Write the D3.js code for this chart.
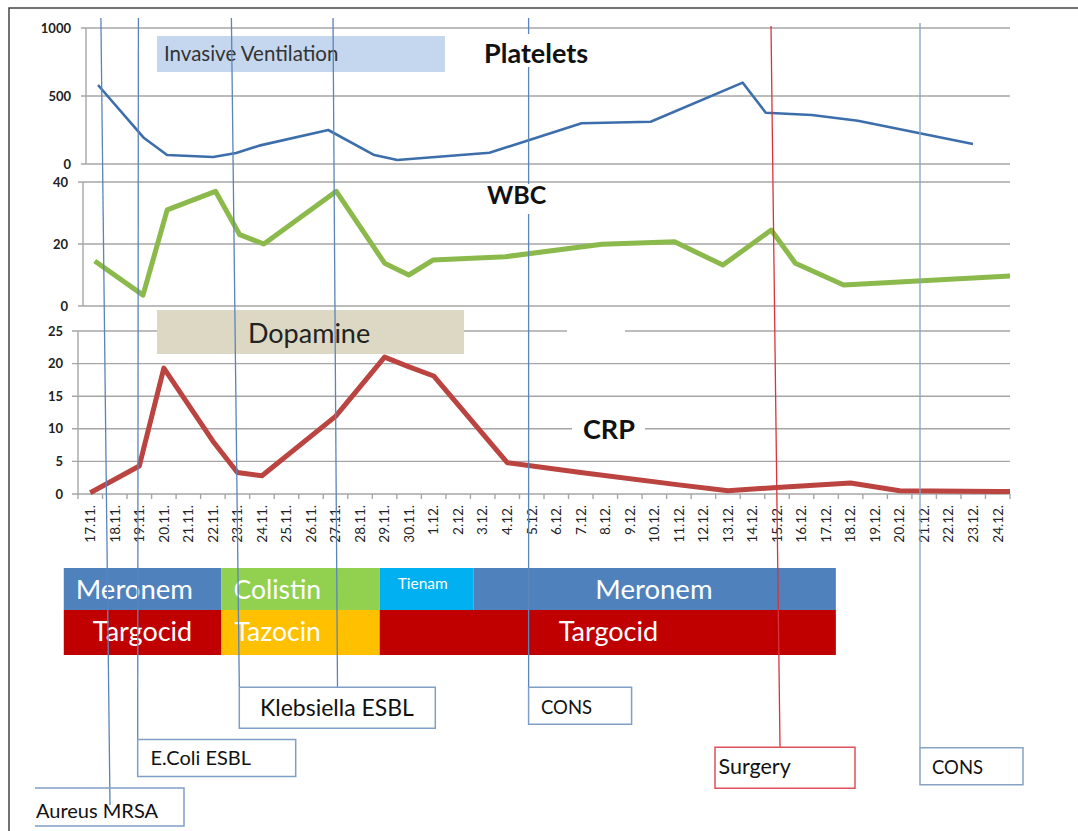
<!DOCTYPE html>
<html>
<head>
<meta charset="utf-8">
<script src="https://cdn.jsdelivr.net/npm/d3@7"></script>
<style>
  body { margin: 0; background: #fff; }
  svg { display: block; font-family: Lato, "Open Sans", sans-serif; }
</style>
</head>
<body>
<script>
// day labels on the x axis
const days = ["17.11.","18.11.","19.11.","20.11.","21.11.","22.11.","23.11.","24.11.","25.11.","26.11.",
  "27.11.","28.11.","29.11.","30.11.","1.12.","2.12.","3.12.","4.12.","5.12.","6.12.","7.12.","8.12.",
  "9.12.","10.12.","11.12.","12.12.","13.12.","14.12.","15.12.","16.12.","17.12.","18.12.","19.12.",
  "20.12.","21.12.","22.12.","23.12.","24.12."];

// series: day index (0 = 17.11.) and value
const pltDay = [0, 2, 3, 5, 6, 7, 10, 12, 13, 17, 21, 24, 28, 29, 31, 33, 38];
const pltVal = [581, 191, 66, 51, 81, 135, 250, 66, 29, 83, 300, 311, 598, 377, 360, 318, 147];
const wbcDay = [0, 2, 3, 5, 6, 7, 10, 12, 13, 14, 17, 21, 24, 26, 28, 29, 31, 38];
const wbcVal = [14.5, 3.5, 31, 37, 23, 20, 37, 13.8, 10, 14.8, 15.9, 19.9, 20.7, 13.2, 24.5, 13.8, 6.8, 9.7];
const crpDay = [0, 2, 3, 5, 6, 7, 10, 12, 13, 14, 17, 20, 24, 26, 28, 31, 33, 37, 38];
const crpVal = [0.2, 4.3, 19.3, 8.1, 3.3, 2.8, 11.9, 21, 19.5, 18.1, 4.8, 3.3, 1.4, 0.5, 1.0, 1.7, 0.5, 0.4, 0.35];

const pltTicks = [0, 500, 1000];
const wbcTicks = [0, 20, 40];
const crpTicks = [0, 5, 10, 15, 20, 25];

// antibiotic therapy rows (in days from 17.11.)
const row1Drug = ["Meronem", "Colistin", "Tienam", "Meronem"];
const row1From = [-0.58, 5.85, 12.3, 16.12];
const row1To   = [5.85, 12.3, 16.12, 30.9];
const row2Drug = ["Targocid", "Tazocin", "Targocid"];
const row2From = [-0.58, 5.85, 12.3];
const row2To   = [5.85, 12.3, 30.9];

// supportive care periods
const careName = ["Invasive Ventilation", "Dopamine"];
const careFrom = [3.22, 3.22];
const careTo   = [14.96, 15.74];

// findings / events
const eventLabel = ["Aureus MRSA", "E.Coli ESBL", "Klebsiella ESBL", "CONS", "Surgery", "CONS"];

const W = 1078, H = 831;
const svg = d3.select("body").append("svg").attr("width", W).attr("height", H);

const x = d3.scaleBand().domain(days).range([78, 1010]);
const bw = x.bandwidth();
const xDay = d3.scaleLinear().domain([0, 38]).range([78, 1010]);
const xCrp = d3.scaleLinear().domain([0, 37]).range([x(days[0]) + bw / 2, x(days[37]) + bw / 2]);
const xWbc = d3.scaleLinear().domain([0, 38]).range([94.7, 1012.8]);
const xPlt = d3.scaleLinear().domain([0, 38]).range([98, 973]);

const grid = "#a6a6a6";

// frame
svg.append("path").attr("d", "M9,831V8H1078").attr("fill", "none")
  .attr("stroke", "#444").attr("stroke-width", 1.5);

svg.append("clipPath").attr("id", "plot").append("rect")
  .attr("x", 0).attr("y", 0).attr("width", 1010).attr("height", H);

const panels = [
  { ticks: pltTicks, domain: [0, 1000], range: [164, 28], axisX: 86, gridX0: 81 },
  { ticks: wbcTicks, domain: [0, 40], range: [306, 182], axisX: 83, gridX0: 78 },
  { ticks: crpTicks, domain: [0, 25], range: [494, 331], axisX: 78, gridX0: 72 }
];
panels.forEach(p => { p.y = d3.scaleLinear().domain(p.domain).range(p.range); });

// gridlines, axes and tick labels
panels.forEach(p => {
  const g = svg.append("g");
  g.selectAll("line.grid").data(p.ticks).enter().append("line")
    .attr("x1", p.gridX0).attr("x2", 1010)
    .attr("y1", d => p.y(d)).attr("y2", d => p.y(d))
    .attr("stroke", grid).attr("stroke-width", 1.4);
  g.append("line")
    .attr("x1", p.axisX).attr("x2", p.axisX)
    .attr("y1", p.range[0]).attr("y2", p.range[1])
    .attr("stroke", grid).attr("stroke-width", 1.4);
  g.selectAll("text").data(p.ticks).enter().append("text")
    .attr("x", p.axisX - 15).attr("y", d => p.y(d) + 4.5)
    .attr("text-anchor", "end").attr("font-size", 13).attr("font-weight", "bold")
    .attr("fill", "#222").text(d => d);
});

// category ticks and rotated day labels under the CRP panel
const crpY = panels[2].y;
svg.append("g").selectAll("line").data(days.map(d => x(d)).concat([1010])).enter().append("line")
  .attr("x1", d => d).attr("x2", d => d).attr("y1", crpY(0)).attr("y2", crpY(0) + 5)
  .attr("stroke", grid).attr("stroke-width", 1.4);
svg.append("g").selectAll("text").data(days).enter().append("text")
  .attr("transform", d => `translate(${x(d) + bw / 2 + 4.8},505) rotate(-90)`)
  .attr("text-anchor", "end").attr("font-size", 13.5).attr("fill", "#222")
  .text(d => d);

// care period boxes
const careStyle = [
  { y: 36, h: 36, fill: "#c5d7ee", size: 20.5, color: "#333", dx: 7, by: 61 },
  { y: 310, h: 44, fill: "#dcd8c4", size: 27, color: "#222", dx: 91, by: 343 }
];
careName.forEach((n, i) => {
  const s = careStyle[i];
  svg.append("rect").attr("x", xDay(careFrom[i])).attr("y", s.y)
    .attr("width", xDay(careTo[i]) - xDay(careFrom[i])).attr("height", s.h).attr("fill", s.fill);
  svg.append("text").attr("x", xDay(careFrom[i]) + s.dx).attr("y", s.by)
    .attr("font-size", s.size).attr("fill", s.color).text(n);
});

// series lines
const series = [
  { xs: xPlt, y: panels[0].y, day: pltDay, val: pltVal, color: "#3d6eac", width: 2.6 },
  { xs: xWbc, y: panels[1].y, day: wbcDay, val: wbcVal, color: "#8cb94b", width: 5 },
  { xs: xCrp, y: panels[2].y, day: crpDay, val: crpVal, color: "#bb4340", width: 5 }
];
series.forEach(s => {
  const line = d3.line().x(i => s.xs(s.day[i])).y(i => s.y(s.val[i]));
  svg.append("path").datum(d3.range(s.day.length)).attr("d", line)
    .attr("clip-path", "url(#plot)")
    .attr("fill", "none").attr("stroke", s.color).attr("stroke-width", s.width)
    .attr("stroke-linejoin", "round");
});

// antibiotic table
const rows = [
  { drug: row1Drug, from: row1From, to: row1To, y: 568, h: 42,
    fill: ["#4f81bd", "#92d050", "#00b0f0", "#4f81bd"], dx: [12, 12, 18, 122], by: [599, 599, 589, 599],
    size: [27.5, 26.5, 15.5, 27.5] },
  { drug: row2Drug, from: row2From, to: row2To, y: 610, h: 45,
    fill: ["#c00000", "#ffc000", "#c00000"], dx: [29, 13, 179], by: [641, 641, 641], size: [27, 26.5, 27] }
];
rows.forEach(r => {
  r.drug.forEach((d, i) => {
    svg.append("rect").attr("x", xDay(r.from[i])).attr("y", r.y)
      .attr("width", xDay(r.to[i]) - xDay(r.from[i])).attr("height", r.h).attr("fill", r.fill[i]);
    svg.append("text").attr("x", xDay(r.from[i]) + r.dx[i]).attr("y", r.by[i])
      .attr("font-size", r.size[i]).attr("fill", "#fff").text(d);
  });
});

// event lines (top x, top y, bottom x, bottom y)
const evLines = [
  { p: [100.9, 18, 110, 805], c: "#5b84bb" },
  { p: [138.4, 18, 137.7, 740], c: "#5b84bb" },
  { p: [231.4, 18, 239.3, 687], c: "#5b84bb" },
  { p: [333, 18, 337.5, 687], c: "#5b84bb" },
  { p: [528.6, 18, 528.6, 687], c: "#5b84bb" },
  { p: [771, 26, 780, 747], c: "#d9343c" },
  { p: [920, 23, 920, 748], c: "#87a3c4" }
];
svg.append("g").selectAll("line").data(evLines).enter().append("line")
  .attr("x1", d => d.p[0]).attr("y1", d => d.p[1]).attr("x2", d => d.p[2]).attr("y2", d => d.p[3])
  .attr("stroke", d => d.c).attr("stroke-width", 1.3);

// event boxes
const evBox = [
  { x: 35, y: 788, w: 149, h: 38, c: "#7f9fc6", tx: 36, ty: 818, size: 20, openLeft: true },
  { x: 137.7, y: 739.5, w: 158, h: 37, c: "#7f9fc6", tx: 150.5, ty: 765, size: 20 },
  { x: 239.3, y: 687.3, w: 196, h: 41, c: "#7f9fc6", tx: 260, ty: 716, size: 23 },
  { x: 528.6, y: 687.3, w: 103, h: 37, c: "#7f9fc6", tx: 541, ty: 713.5, size: 18.5 },
  { x: 715, y: 747.3, w: 140, h: 41, c: "#e0505a", tx: 718.5, ty: 774, size: 21.5 },
  { x: 920, y: 747.7, w: 103, h: 37, c: "#87a3c4", tx: 932, ty: 773.5, size: 18.5 }
];
evBox.forEach((b, i) => {
  const r = b.x + b.w, bt = b.y + b.h;
  const d = b.openLeft
    ? `M${b.x},${b.y}H${r}V${bt}H${b.x}`
    : `M${b.x},${b.y}H${r}V${bt}H${b.x}Z`;
  svg.append("path").attr("d", d).attr("fill", b.openLeft ? "none" : "#fff")
    .attr("stroke", b.c).attr("stroke-width", 1.5);
  svg.append("text").attr("x", b.tx).attr("y", b.ty).attr("font-size", b.size)
    .attr("fill", "#111").text(eventLabel[i]);
});

// panel titles with white background patches
const titles = [
  { t: "Platelets", x: 484, y: 63, size: 27, bg: [478, 34, 118, 33] },
  { t: "WBC", x: 487, y: 204, size: 25, bg: [484, 184, 159, 30] },
  { t: "CRP", x: 583, y: 439, size: 27, bg: [572, 414, 73, 28] }
];
svg.append("rect").attr("x", 567).attr("y", 328).attr("width", 58).attr("height", 6).attr("fill", "#fff");
titles.forEach(d => {
  svg.append("rect").attr("x", d.bg[0]).attr("y", d.bg[1]).attr("width", d.bg[2]).attr("height", d.bg[3])
    .attr("fill", "#fff");
  svg.append("text").attr("x", d.x).attr("y", d.y).attr("font-size", d.size).attr("font-weight", "bold")
    .attr("fill", "#111").text(d.t);
});
</script>
</body>
</html>
